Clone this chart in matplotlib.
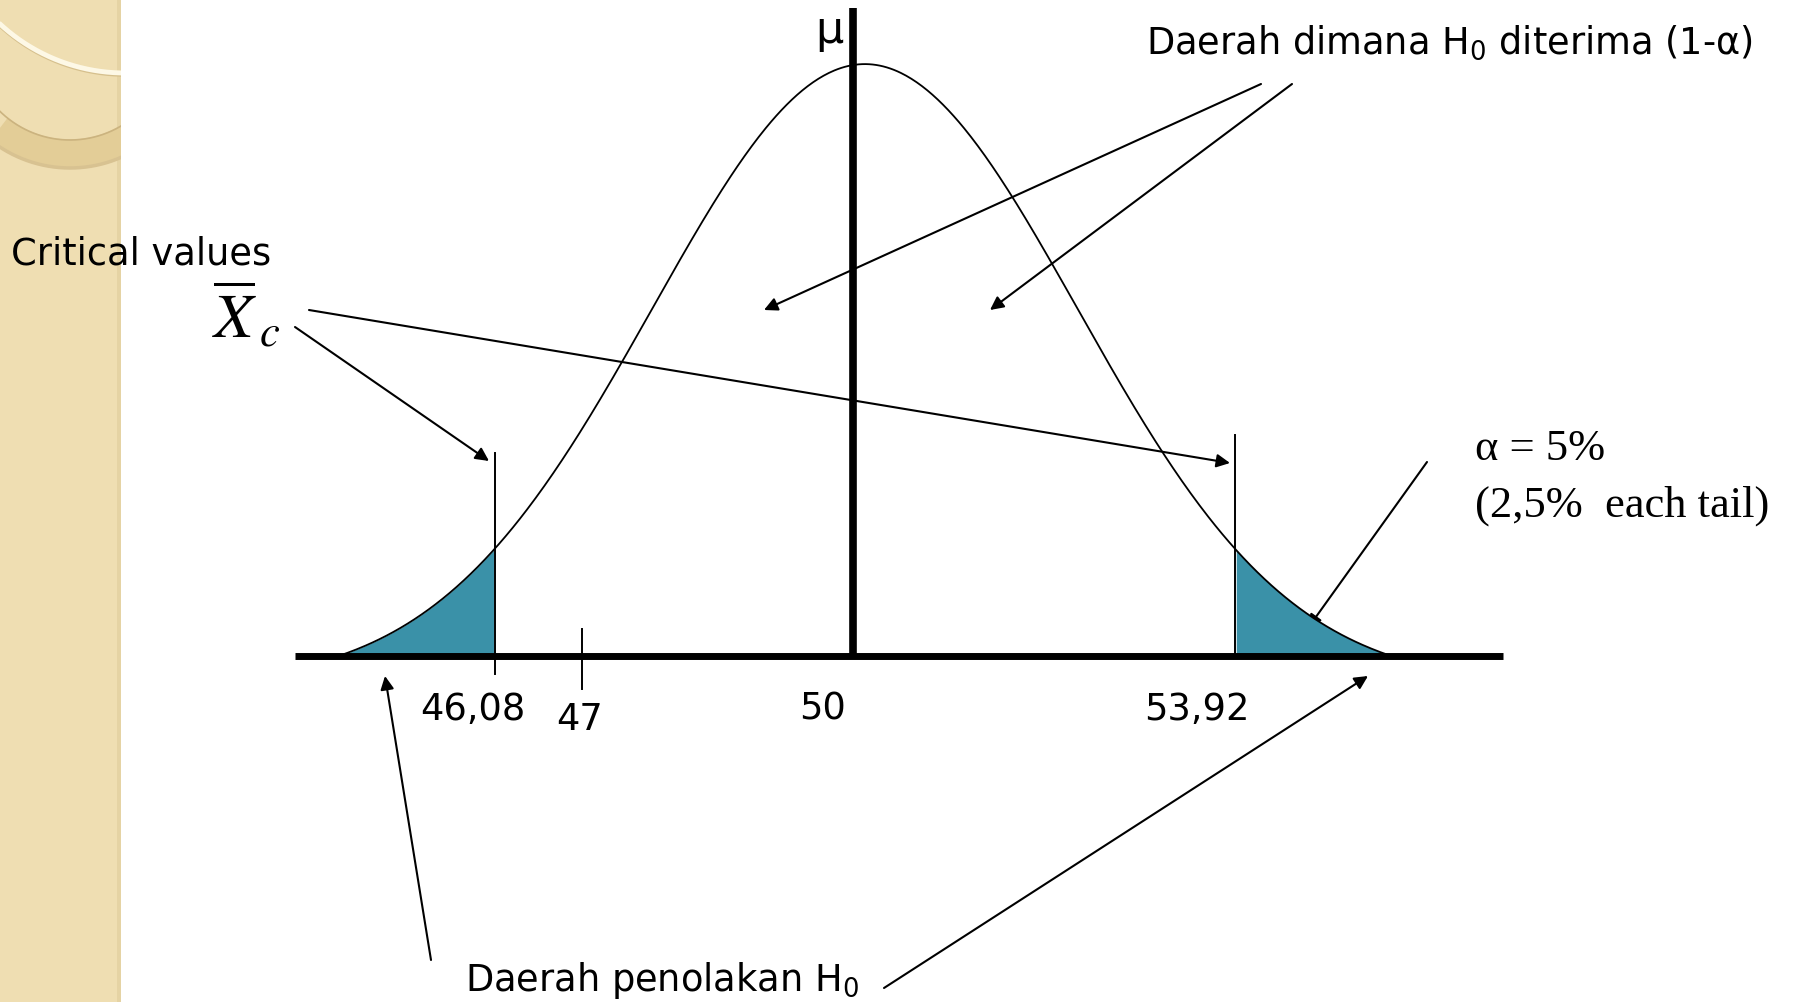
import numpy as np
import matplotlib
matplotlib.use("Agg")
import matplotlib.pyplot as plt
from matplotlib.patches import Rectangle

plt.rcParams["mathtext.fontset"] = "stix"
plt.rcParams["hatch.color"] = "#f4e8c8"
plt.rcParams["hatch.linewidth"] = 0.8

# Nilai-nilai grafik
MU = 50.0
MU_GARIS = 49.87             # posisi garis tebal mu seperti pada gambar
SIGMA = 2.25                 # lebar kurva yang digambar
UJUNG = 5.57                 # kurva menyentuh sumbu di MU +/- UJUNG
KRITIS = [46.08, 53.92]
TICK_47 = 47.0
LABEL_TICK = ["46,08", "47", "50", "53,92"]
SUMBU = (43.96, 56.76)
TINGGI_GARIS_KRITIS = [(-0.03, 0.343), (0.0, 0.373)]

W, H = 1793, 1003
TEAL = "#3a91a8"
BEIGE = "#efdeb2"

fig = plt.figure(figsize=(W / 100, H / 100), dpi=100)

# lapisan latar (koordinat piksel, y ke bawah)
bg = fig.add_axes([0, 0, 1, 1])
bg.set_xlim(0, W)
bg.set_ylim(H, 0)
bg.axis("off")

strip = Rectangle((0, 0), 121, H, facecolor=BEIGE, edgecolor="none",
                  hatch="+", zorder=0)
bg.add_patch(strip)
bg.add_patch(Rectangle((117, 0), 4, H, facecolor="#e5d3a4", edgecolor="none", zorder=1))


def lengkung(cx, cy, r, lw, col, z):
    # busur lingkaran bagian bawah, y ke bawah, dipotong di tepi strip
    t = np.linspace(0, np.pi, 600)
    xs = cx - r * np.cos(t)
    ys = cy + r * np.sin(t)
    m = (xs >= -20) & (xs <= 140)
    ln, = bg.plot(xs[m], ys[m], color=col, lw=lw, solid_capstyle="butt", zorder=z)
    ln.set_clip_path(strip)


lengkung(70, 41, 114, 21, "#e3cd97", 2)       # pita tan
lengkung(70, 41, 100, 1.2, "#cbb37f", 3)      # tepi atas pita
lengkung(70, 41, 128, 2.5, "#d8c291", 2)      # bayangan bawah pita
lengkung(125, -108, 184, 2.5, "#d6c08d", 2)   # bayangan garis putih
lengkung(125, -110, 184, 3.5, "#fdf8e6", 3)   # garis putih

# lapisan data
ax = fig.add_axes([0, 0, 1, 1], facecolor="none")
ax.set_xlim(40.84, 59.83)
ax.set_ylim(-0.585, 1.11)
ax.axis("off")

x = np.linspace(MU - UJUNG, MU + UJUNG, 600)
pdf = lambda v: np.exp(-0.5 * ((v - MU) / SIGMA) ** 2)
y = (pdf(x) - pdf(MU + UJUNG)) / (1 - pdf(MU + UJUNG))

ax.fill_between(x, 0, y, where=x <= KRITIS[0], color=TEAL, lw=0, zorder=2)
ax.fill_between(x, 0, y, where=x >= KRITIS[1], color=TEAL, lw=0, zorder=2)
ax.plot(x, y, color="black", lw=1.3, zorder=3)

ax.plot(SUMBU, [0, 0], color="black", lw=5, solid_capstyle="butt", zorder=4)
ax.plot([MU_GARIS, MU_GARIS], [0, 1.095], color="black", lw=5.5,
        solid_capstyle="butt", zorder=4)
for xk, (y0, y1) in zip(KRITIS, TINGGI_GARIS_KRITIS):
    ax.plot([xk, xk], [y0, y1], color="black", lw=1.4, zorder=4)
ax.plot([TICK_47, TICK_47], [-0.056, 0.046], color="black", lw=1.4, zorder=4)

# teks
sans = dict(family="DejaVu Sans", fontsize=26.5, color="black",
            math_fontfamily="dejavusans")
serif = dict(family="Liberation Serif", fontsize=32, color="black")
for lab, (px, py) in zip(LABEL_TICK, [(473, 709), (580, 720), (823, 709), (1197, 709)]):
    bg.text(px, py, lab, ha="center", va="center", **sans)

bg.text(829, 30, "μ", ha="center", va="center", family="DejaVu Sans", fontsize=32)
bg.text(1146, 43, r"Daerah dimana H$_0$ diterima (1-α)", ha="left", va="center", **sans)
bg.text(11, 254, "Critical values", ha="left", va="center", **sans)
bg.text(212, 316, r"$\overline{X}_{\,c}$", ha="left", va="center", fontsize=46)
bg.text(1475, 449, "α = 5%", ha="left", va="center", **serif)
bg.text(1475, 506, "(2,5%  each tail)", ha="left", va="center", **serif)
bg.text(465, 981, r"Daerah penolakan H$_0$", ha="left", va="center", **sans)

panah = dict(arrowstyle="-|>", color="black", lw=1.5, mutation_scale=20,
             shrinkA=0, shrinkB=0)
for (x0, y0, x1, y1) in [(1261, 85, 764, 311), (1292, 85, 990, 311),
                         (295, 328, 489, 462), (309, 311, 1230, 464),
                         (1427, 463, 1308, 629), (431, 961, 385, 677),
                         (884, 989, 1368, 677)]:
    bg.annotate("", xy=(x1, y1), xytext=(x0, y0), arrowprops=panah)

fig.savefig("out.png", dpi=100)
